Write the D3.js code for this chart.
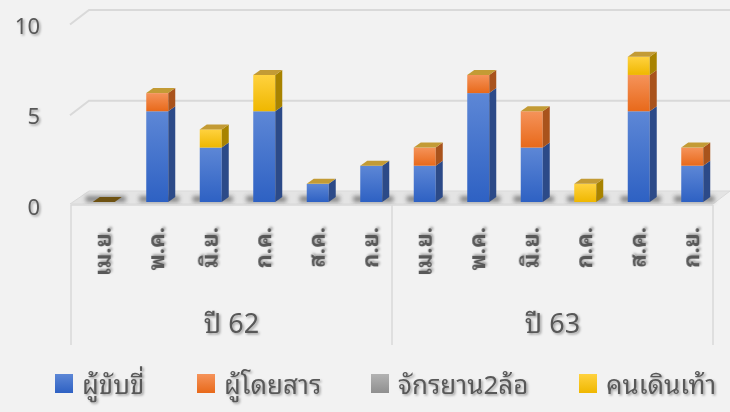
<!DOCTYPE html>
<html><head><meta charset="utf-8">
<script src="https://cdn.jsdelivr.net/npm/d3@7"></script>
<style>
html,body{margin:0;padding:0;background:#f2f2f2;}
svg{display:block;}
text{font-family:"Noto Sans Thai Looped","Noto Serif Thai","Loma","Garuda","Noto Sans Thai","Noto Sans",sans-serif;fill:#595959;}
</style></head>
<body>
<svg id="c" width="730" height="412"></svg>
<script>
// ---- data ----
const groups = ["ปี 62", "ปี 63"];
const months = ["เม.ย.", "พ.ค.", "มิ.ย.", "ก.ค.", "ส.ค.", "ก.ย."];
const seriesNames = ["ผู้ขับขี่", "ผู้โดยสาร", "จักรยาน2ล้อ", "คนเดินเท้า"];
const riders      = [0, 5, 3, 5, 1, 2,   2, 6, 3, 0, 5, 2];
const passengers  = [0, 1, 0, 0, 0, 0,   1, 1, 2, 0, 2, 1];
const bicycles    = [0, 0, 0, 0, 0, 0,   0, 0, 0, 0, 0, 0];
const pedestrians = [0, 0, 1, 2, 0, 0,   0, 0, 0, 1, 1, 0];
const yTicks = [0, 5, 10];

const colors = {
  front: [["#5d87d6","#2e61c3"],["#f5935a","#e8691a"],["#b3b3b3","#8f8f8f"],["#ffd23f","#efb700"]],
  side: ["#2c4a88","#a9531c","#6b6b6b","#a88300"]
};
const topColor = "#c39b35";

const svg = d3.select("#c");
const defs = svg.append("defs");
const f = defs.append("filter").attr("id","ts").attr("x","-20%").attr("y","-20%").attr("width","150%").attr("height","150%");
f.append("feDropShadow").attr("dx",1.5).attr("dy",1.5).attr("stdDeviation",1).attr("flood-color","#000").attr("flood-opacity",0.35);
const bl = defs.append("filter").attr("id","blur").attr("x","-50%").attr("y","-100%").attr("width","200%").attr("height","300%");
bl.append("feGaussianBlur").attr("stdDeviation",2.2);
colors.front.forEach((c,i)=>{
  const g = defs.append("linearGradient").attr("id","g"+i).attr("x1",0).attr("y1",0).attr("x2",0).attr("y2",1);
  g.append("stop").attr("offset","0%").attr("stop-color",c[0]);
  g.append("stop").attr("offset","100%").attr("stop-color",c[1]);
});

const keys = [];
groups.forEach(g => months.forEach(m => keys.push(g + "|" + m)));
const table = keys.map((k,i)=>({key:k, month:k.split("|")[1], s0:riders[i], s1:passengers[i], s2:bicycles[i], s3:pedestrians[i]}));
const stack = d3.stack().keys(["s0","s1","s2","s3"])(table);

const x = d3.scaleBand().domain(keys).range([71, 713]).padding(0);
const gx = d3.scaleBand().domain(groups).range([71, 713]).padding(0);
const y = d3.scaleLinear().domain([0, 10]).range([202, 20.5]);
const barW = 22, dx = 7, dy = 5, shift = 6, backDx = 19, backDy = 11;
const bx = k => x(k) + (x.bandwidth() - barW) / 2 + shift;

// back-wall gridlines
const grid = svg.append("g");
yTicks.filter(t=>t>0).forEach(t=>{
  grid.append("path")
    .attr("d", `M70,${y(t)+4}L${70+backDx},${y(t)-backDy+0.5}L730,${y(t)-backDy+0.5}`)
    .attr("fill","none").attr("stroke","#d9d9d9").attr("stroke-width",2);
});

// floor
svg.append("path")
  .attr("d", `M70,${y(0)+2}L713,${y(0)+2}L730,${y(0)-backDy}L${70+backDx},${y(0)-backDy}Z`)
  .attr("fill","#e4e4e4").attr("stroke","#d9d9d9").attr("stroke-width",1);
// shadows on floor
svg.append("g").selectAll("rect").data(keys).join("rect")
  .attr("x", k => bx(k) - 7).attr("y", y(0) - 6).attr("width", barW + 18).attr("height", 6)
  .attr("fill","#3a3a3a").attr("opacity",0.55).attr("filter","url(#blur)");

// y labels
svg.append("g").selectAll("text").data(yTicks).join("text")
  .attr("x", 40).attr("y", t => y(t) + 13).attr("text-anchor","end")
  .attr("font-size", 22).attr("filter","url(#ts)").text(d=>d);

// bars
const bars = svg.append("g");
stack.forEach((s, si) => {
  s.forEach((d, i) => {
    const k = keys[i];
    if (d[1] <= d[0]) return;
    const x0 = bx(k), yt = y(d[1]), yb = y(d[0]);
    bars.append("rect").attr("x", x0).attr("y", yt).attr("width", barW).attr("height", yb - yt)
      .attr("fill", `url(#g${si})`);
    bars.append("path")
      .attr("d", `M${x0+barW},${yt}L${x0+barW+dx},${yt-dy}L${x0+barW+dx},${yb-dy}L${x0+barW},${yb}Z`)
      .attr("fill", colors.side[si]);
  });
});
// top faces
table.forEach((d, i) => {
  const k = keys[i];
  const tot = d.s0 + d.s1 + d.s2 + d.s3;
  const x0 = bx(k), yt = y(tot);
  bars.append("path")
    .attr("d", `M${x0},${yt}L${x0+dx},${yt-dy}L${x0+barW+dx},${yt-dy}L${x0+barW},${yt}Z`)
    .attr("fill", tot === 0 ? "#6e5212" : topColor);
});

// category axis lines
const ax = svg.append("g").attr("stroke","#d9d9d9").attr("stroke-width",1.5);
ax.append("line").attr("x1",71).attr("x2",713).attr("y1",205).attr("y2",205);
[71, 392, 713].forEach(v => ax.append("line").attr("x1",v).attr("x2",v).attr("y1",205).attr("y2",345));

// month labels (rotated)
svg.append("g").selectAll("text").data(table).join("text")
  .attr("transform", (d,i) => `translate(${bx(keys[i]) + barW/2 + 7},227) rotate(-90)`)
  .attr("text-anchor","end").attr("font-size", 22).attr("font-weight","bold")
  .attr("filter","url(#ts)").text(d => d.month);

// group labels
svg.append("g").selectAll("text").data(groups).join("text")
  .attr("x", g => gx(g) + gx.bandwidth()/2).attr("y", 333).attr("text-anchor","middle")
  .attr("font-size", 27).attr("filter","url(#ts)").text(d=>d);

// legend
const legX = [55, 197, 371, 579];
const leg = svg.append("g");
seriesNames.forEach((n, i) => {
  leg.append("rect").attr("x", legX[i]).attr("y", 374).attr("width", 18).attr("height", 19)
    .attr("fill", `url(#g${i})`);
  leg.append("text").attr("x", legX[i] + 27).attr("y", 394).attr("font-size", 26)
    .attr("filter","url(#ts)").text(n);
});
</script>
</body></html>
